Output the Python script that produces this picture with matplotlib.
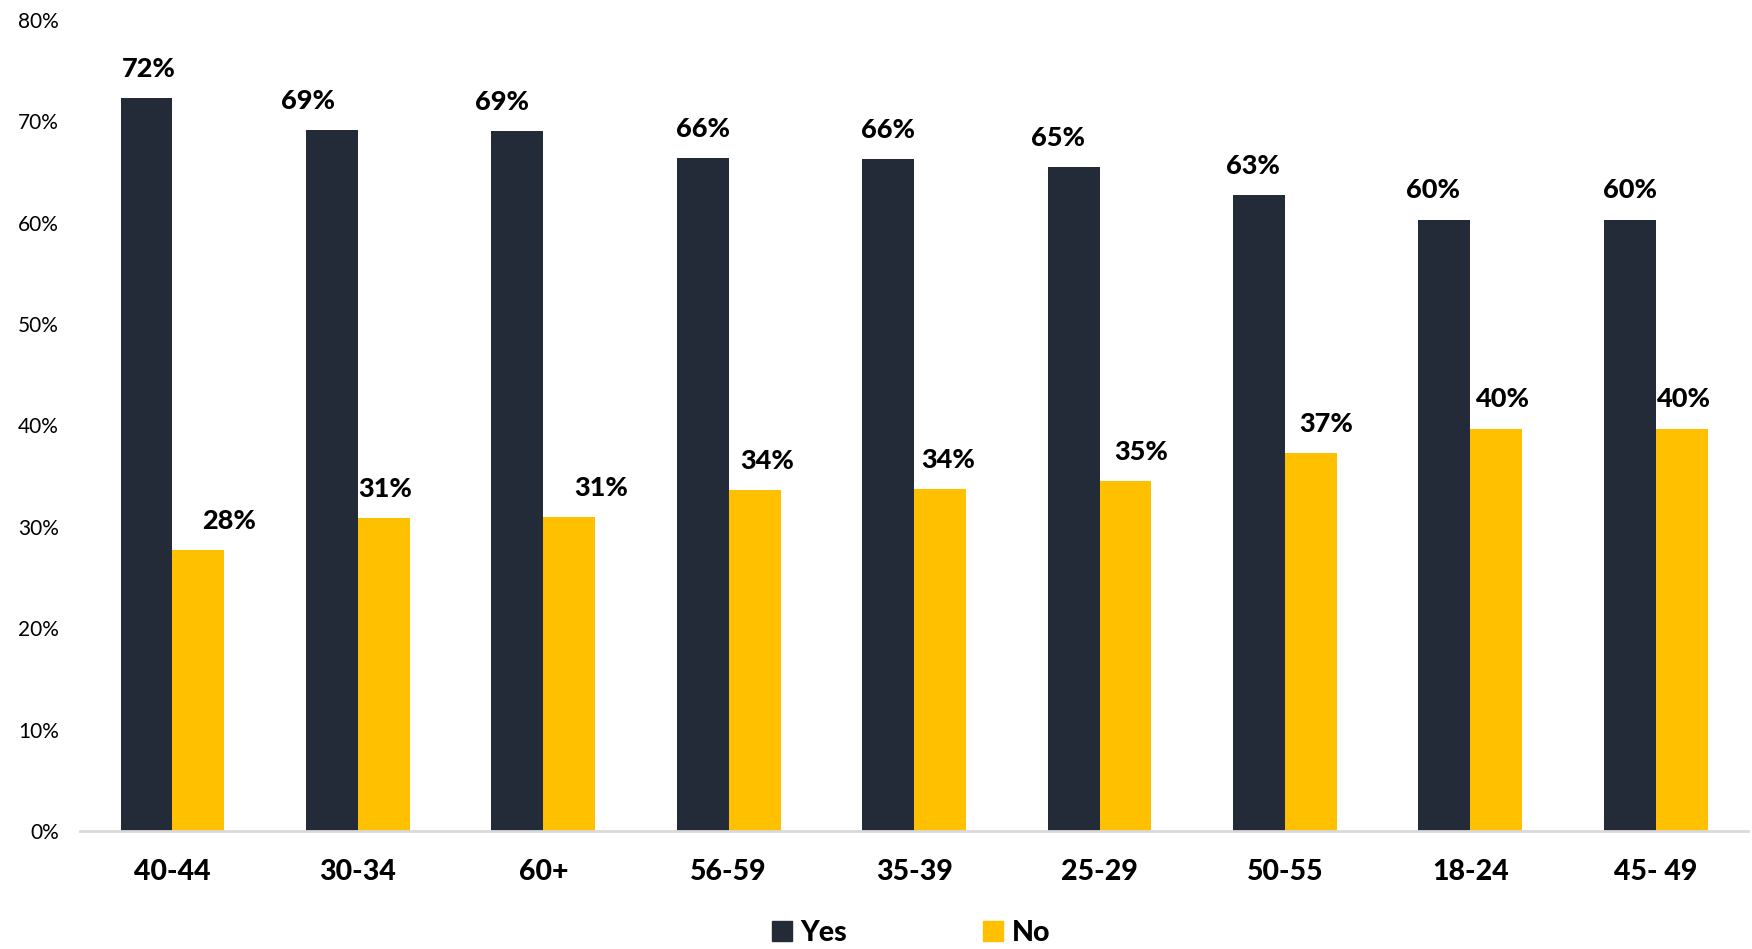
import matplotlib
matplotlib.use("Agg")
import matplotlib.pyplot as plt
from matplotlib.patches import Patch
import numpy as np

categories = ["40-44", "30-34", "60+", "56-59", "35-39", "25-29", "50-55", "18-24", "45- 49"]
yes_vals = [72.3, 69.1, 69.0, 66.4, 66.3, 65.5, 62.7, 60.3, 60.3]
no_vals = [27.7, 30.9, 31.0, 33.6, 33.7, 34.5, 37.3, 39.7, 39.7]
yes_labels = ["72%", "69%", "69%", "66%", "66%", "65%", "63%", "60%", "60%"]
no_labels = ["28%", "31%", "31%", "34%", "34%", "35%", "37%", "40%", "40%"]
# horizontal label nudges (points) as placed in the original
yes_dx = [2, -17, -11, 0, 0, -11, -4, -8, 0]
no_dx = [22, 1, 23, 9, 6, 11, 11, 4, 1]

DARK = "#232B38"
YELLOW = "#FFC000"
FONT = "Lato"

fig = plt.figure(figsize=(17.52, 9.49), dpi=100)
ax = fig.add_axes([0.0455, 0.1243, 0.9525, 0.8547])

x = np.arange(len(categories))
w = 0.28
b1 = ax.bar(x - w / 2, yes_vals, w, color=DARK, label="Yes")
b2 = ax.bar(x + w / 2, no_vals, w, color=YELLOW, label="No")

for rect, lab, dx in zip(b1, yes_labels, yes_dx):
    ax.annotate(lab, (rect.get_x() + rect.get_width() / 2, rect.get_height()),
                xytext=(dx, 21), textcoords="offset points", ha="center", va="center",
                fontsize=19.5, fontweight="black", family=FONT, color="black")
for rect, lab, dx in zip(b2, no_labels, no_dx):
    ax.annotate(lab, (rect.get_x() + rect.get_width() / 2, rect.get_height()),
                xytext=(dx, 21), textcoords="offset points", ha="center", va="center",
                fontsize=19.5, fontweight="black", family=FONT, color="black")

ax.set_xlim(-0.5, len(categories) - 0.5)
ax.set_ylim(0, 80)
ax.set_yticks(range(0, 81, 10))
ax.set_yticklabels([f"{v}%" for v in range(0, 81, 10)], family=FONT, fontsize=15)
ax.set_xticks(x)
ax.set_xticklabels(categories, family=FONT, fontsize=20.5, fontweight="black")
ax.tick_params(axis="y", length=0, pad=15)
ax.tick_params(axis="x", length=0, pad=20)
for s in ["top", "right", "left"]:
    ax.spines[s].set_visible(False)
ax.spines["bottom"].set_color("#d9d9d9")
ax.spines["bottom"].set_linewidth(2)

handles = [Patch(color=DARK, label="Yes"), Patch(color=YELLOW, label="No")]
leg = fig.legend(handles=handles, loc="center", bbox_to_anchor=(0.52, 0.017), ncol=2,
                 frameon=False, handlelength=0.7, handleheight=0.7, handletextpad=0.3,
                 columnspacing=4.8, prop={"family": FONT, "size": 20.5, "weight": "black"})

fig.savefig("out.png", dpi=100)
